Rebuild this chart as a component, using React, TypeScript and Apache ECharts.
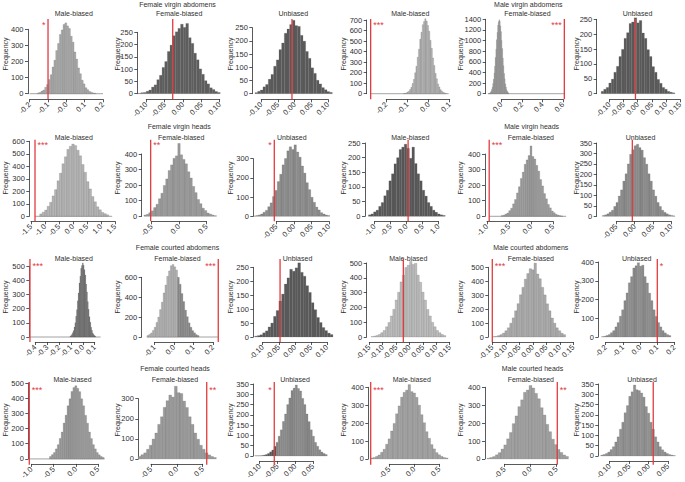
import React, { useEffect, useRef } from 'react';
import * as echarts from 'echarts';

const FONT = '"Liberation Sans", Arial, Helvetica, sans-serif';
const RED = '#e23b3f';
const INK = '#303030';

// ---------------- data ----------------
const panelTitles = ['Male-biased', 'Female-biased', 'Unbiased', 'Male-biased', 'Female-biased', 'Unbiased'];
const groupTitles = [
  ['Female virgin abdomens', 'Male virgin abdomens'],
  ['Female virgin heads', 'Male virgin heads'],
  ['Female courted abdomens', 'Male courted abdomens'],
  ['Female courted heads', 'Male courted heads'],
];

// histogram bin counts
const c11 = [5,8,16,23,40,57,88,118,166,208,268,312,368,396,430,440,421,405,357,320,259,215,160,124,84,61,37,25,14,9,5,3];
const c12 = [1,2,4,5,10,15,27,36,57,75,107,131,172,198,236,252,266,283,270,286,228,205,165,138,101,79,53,40,24,17,9,5];
const c13 = [4,9,14,26,35,55,73,104,128,167,192,229,245,262,278,258,255,221,199,160,134,98,77,51,37,23,15,8,5];
const c14 = [2,4,7,15,23,40,61,97,137,199,260,347,423,518,584,656,686,712,690,648,594,507,431,339,268,193,142,93,64,38,25,13,8,4];
const c15 = [4,8,14,29,46,80,121,190,272,390,515,682,838,1015,1155,1290,1355,1392,1366,1276,1168,1002,850,670,526,381,279,185,126,76,48,27,15];
const c16 = [8,15,21,36,49,72,92,125,149,186,205,236,241,255,238,246,204,186,148,125,91,72,48,35,21,15,8,5,3];
const c21 = [19,33,50,80,112,163,213,284,345,420,476,535,560,578,566,528,484,414,352,277,219,158,116,76,52,31,21,12];
const c22 = [8,13,23,35,56,77,113,148,198,240,294,330,372,388,468,395,365,337,286,246,192,152,108,81,52,37,21,14,8,4];
const c23 = [2,4,7,12,21,31,50,70,103,135,181,219,268,301,341,362,348,372,335,308,262,225,175,139,99,73,48,33,19,12,7,4];
const c24 = [5,8,15,21,34,47,70,89,121,145,179,200,228,236,246,232,198,236,180,145,121,89,69,47,34,21,14,8,5,3];
const c25 = [4,7,14,21,36,52,80,108,150,190,243,284,334,362,390,452,384,368,327,290,236,195,146,112,76,54,34,23,13,8,4,2];
const c26 = [4,7,12,20,29,47,66,97,126,168,203,250,296,318,337,344,328,316,280,249,203,168,126,96,66,47,29,19,12,7,4,2];
const c31 = [5,10,18,30,45,71,101,147,193,256,312,382,430,486,505,524,508,476,438,374,319,250,197,143,104,69,47,28,18,10,6];
const c32 = [14,26,40,66,97,146,200,275,350,443,522,610,664,716,728,705,672,600,530,436,356,270,204,142,99,64,42,24,15];
const c33 = [3,5,8,15,22,36,50,74,95,129,154,190,212,243,236,248,266,232,218,184,160,123,98,70,52,34,23,14,9];
const c34 = [3,6,10,17,29,44,69,98,142,187,250,302,372,418,470,485,510,490,498,418,370,303,249,186,142,99,69,44,29,17,10];
const c35 = [3,5,10,17,28,45,66,99,137,188,239,303,356,415,455,490,482,530,452,418,356,302,238,188,136,99,66,45,27,17];
const c36 = [2,4,8,13,23,34,54,77,111,145,194,235,289,322,368,380,396,378,383,322,288,234,194,145,110,77,54,34,22,13,8];
const c41 = [16,28,42,66,94,135,177,236,288,350,396,444,470,482,465,443,396,350,287,235,177,134,94,66,42,27,16,10];
const c42 = [12,21,30,48,68,99,129,172,210,257,290,318,308,362,330,326,288,256,210,172,129,98,68,48,30,20,12,7];
const c43 = [1,1,1,2,4,7,12,20,29,47,66,96,127,168,204,250,282,318,330,345,328,316,280,250,204,167,127,96,66,47,30,19,12,7];
const c44 = [5,8,14,22,37,54,82,112,156,198,252,296,345,372,384,415,376,368,344,300,247,202,152,115,80,56,35,23,14,8,5];
const c45 = [4,8,13,23,35,55,78,112,148,197,240,292,330,372,385,410,396,366,336,286,245,193,152,110,80,53,36,22,14];
const c46 = [4,7,12,19,31,45,68,93,130,164,210,245,290,312,345,322,318,306,286,240,208,164,130,93,68,45,30,19,12,7,4,2];
const counts = [c11,c12,c13,c14,c15,c16,c21,c22,c23,c24,c25,c26,c31,c32,c33,c34,c35,c36,c41,c42,c43,c44,c45,c46];

const binStarts = [-0.158,-0.129,-0.119,-0.12,-0.125,-0.1295, -1.188,-0.638,-0.1152,-1.19,-0.682,-0.0881, -0.1085,-0.1384,-0.1252,-0.1435,-0.1485,-0.2245, -0.594,-0.749,-0.114,-0.875,-0.837,-0.123];
const binWidths = [0.01,0.0072,0.008,0.006,0.006,0.009, 0.088,0.044,0.0068,0.08,0.044,0.0062, 0.007,0.0092,0.0084,0.009,0.009,0.013, 0.044,0.054,0.006,0.05,0.054,0.006];
// empty-bin stretch of each histogram (zero counts), or null
const emptyRanges: ([number, number] | null)[] = [
  [-0.2, 0.2], null, null, [-0.275, 0.095], [-0.13, 0.62], null,
  [-1.36, 1.4], null, null, null, [-0.95, 0.8], null,
  [-0.445, 0.15], [-0.14, 0.225], null, null, null, null,
  [-1.05, 0.65], null, null, null, null, null,
];
// observed values (red lines) and significance stars
const observed = [-0.1,-0.028,-0.008,-0.274,0.613,-0.008, -1.357,-0.515,-0.0557,0.05,-0.95,-0.0063, -0.445,0.227,-0.046,-0.023,-0.15,0.1, -1.05,0.578,-0.059,-0.872,0.515,0.012];
const stars = ['*','','','***','***','', '***','**','*','','***','', '***','***','','','***','*', '***','**','*','***','**',''];
const starRight = [false,false,false,true,false,false, true,true,false,false,true,false, true,false,false,false,true,true, true,true,false,true,true,false];

// axes
const xMins = [-0.2,-0.1,-0.1,-0.2,0,-0.1, -1.5,-0.5,-0.05,-1,-1,-0.05, -0.4,-0.1,-0.1,-0.15,-0.15,-0.2, -1,-0.5,-0.1,-0.5,-0.5,-0.1];
const xMaxs = [0.2,0.1,0.1,0.1,0.6,0.15, 1.5,0.5,0.1,1,0.5,0.1, 0.1,0.2,0.1,0.15,0.15,0.2, 0.5,0.5,0.05,0.5,0.5,0.05];
const xSteps = [0.1,0.05,0.05,0.1,0.2,0.05, 0.5,0.5,0.05,0.5,0.5,0.05, 0.1,0.1,0.05,0.05,0.05,0.1, 0.5,0.5,0.05,0.5,0.5,0.05];
const xTickLabels = [
  ['-0.2','-0.1','-0.0','0.1','0.2'],
  ['-0.10','-0.05','0.00','0.05','0.10'],
  ['-0.10','-0.05','0.00','0.05','0.10'],
  ['-0.2','-0.1','0.0','0.1'],
  ['0.0','0.2','0.4','0.6'],
  ['-0.10','-0.05','0.00','0.05','0.10','0.15'],
  ['-1.5','-1.0','-0.5','0.0','0.5','1.0','1.5'],
  ['-0.5','0.0','0.5'],
  ['-0.05','0.00','0.05','0.10'],
  ['-1.0','-0.5','0.0','0.5','1.0'],
  ['-1.0','-0.5','0.0','0.5'],
  ['-0.05','0.00','0.05','0.10'],
  ['-0.4','-0.3','-0.2','-0.1','0.0','0.1'],
  ['-0.1','0.0','0.1','0.2'],
  ['-0.10','-0.05','0.00','0.05','0.10'],
  ['-0.15','-0.10','-0.05','0.00','0.05','0.10','0.15'],
  ['-0.15','-0.10','-0.05','0.00','0.05','0.10','0.15'],
  ['-0.2','-0.1','0.0','0.1','0.2'],
  ['-1.0','-0.5','0.0','0.5'],
  ['-0.5','0.0','0.5'],
  ['-0.10','-0.05','0.00','0.05'],
  ['-0.5','0.0','0.5'],
  ['-0.5','0.0','0.5'],
  ['-0.10','-0.05','0.00','0.05'],
];
const yMaxs = [400,250,250,700,1400,250, 600,400,300,250,400,350, 500,600,250,500,500,400, 500,300,350,400,400,350];
const ySteps = [100,50,50,100,200,50, 100,100,100,50,100,50, 100,200,50,100,100,100, 100,100,50,100,100,50];

// ---------------- layout & style ----------------
const rows = [
  { base: 93.7, axisGap: 5.6, lineTop: 19, lineBottom: 99.3, titleY: 13.5, groupY: 4, freqY: 54, starY: 23 },
  { base: 216.3, axisGap: 5, lineTop: 139.7, lineBottom: 221.3, titleY: 137, groupY: 126.3, freqY: 178, starY: 143 },
  { base: 337, axisGap: 5, lineTop: 259, lineBottom: 342, titleY: 258, groupY: 247.3, freqY: 297, starY: 264 },
  { base: 459.7, axisGap: 5, lineTop: 382, lineBottom: 464.7, titleY: 379, groupY: 368.7, freqY: 420, starY: 388 },
];
const groupX = [[177.5, 528.3], [179.2, 531.7], [177.5, 530.8], [175, 532.5]];
const freqX = [5, 117.5, 230.5, 343, 460.5, 576.5];
// axisX: y-axis line; x0/x1: pixel of first/last x tick; yTop: pixel of top y tick
const layout = [
  { axisX: 28, x0: 29.7, x1: 103, yTop: 29.3, titleX: 73.8 },
  { axisX: 137.3, x0: 146.3, x1: 219.7, yTop: 32.3, titleX: 179.2 },
  { axisX: 252.3, x0: 261.3, x1: 328, yTop: 27.7, titleX: 293.3 },
  { axisX: 366.7, x0: 386.3, x1: 449.7, yTop: 20, titleX: 410.3 },
  { axisX: 485.7, x0: 501.3, x1: 563, yTop: 19.3, titleX: 527.5 },
  { axisX: 596.7, x0: 609.5, x1: 697, yTop: 19.3, titleX: 637.5 },
  { axisX: 29.3, x0: 31, x1: 115, yTop: 141.3, titleX: 73.8 },
  { axisX: 141.7, x0: 151.5, x1: 206.5, yTop: 154, titleX: 181.2 },
  { axisX: 253.3, x0: 276.3, x1: 329, yTop: 158.7, titleX: 291.8 },
  { axisX: 365, x0: 374.5, x1: 438.5, yTop: 143, titleX: 410.3 },
  { axisX: 485, x0: 487, x1: 553, yTop: 154, titleX: 530.8 },
  { axisX: 596.7, x0: 616.3, x1: 671.3, yTop: 143, titleX: 640.5 },
  { axisX: 29.3, x0: 35.3, x1: 94.7, yTop: 266.3, titleX: 73.8 },
  { axisX: 141.7, x0: 154.5, x1: 213, yTop: 277.3, titleX: 177.5 },
  { axisX: 253.3, x0: 262.7, x1: 327, yTop: 267.3, titleX: 297.5 },
  { axisX: 366.7, x0: 369.3, x1: 449.7, yTop: 263, titleX: 408.3 },
  { axisX: 488.3, x0: 492.3, x1: 573.3, yTop: 267.3, titleX: 530.8 },
  { axisX: 598.3, x0: 605.7, x1: 674.5, yTop: 262, titleX: 636.7 },
  { axisX: 28.3, x0: 31.5, x1: 98, yTop: 383, titleX: 72.5 },
  { axisX: 138.3, x0: 151, x1: 202.7, yTop: 398.7, titleX: 175 },
  { axisX: 253.3, x0: 259.7, x1: 313, yTop: 384, titleX: 295 },
  { axisX: 368.3, x0: 389.3, x1: 439.3, yTop: 387.3, titleX: 411.7 },
  { axisX: 485, x0: 504.5, x1: 556.5, yTop: 387.3, titleX: 530.8 },
  { axisX: 598.3, x0: 609.7, x1: 668, yTop: 384, titleX: 642 },
];
const fills = ['#a9a9a9','#5e5e5e','#5a5a5a','#b6b6b6','#a8a8a8','#595959',
  '#b4b4b4','#9a9a9a','#8c8c8c','#575757','#9c9c9c','#8a8a8a',
  '#646464','#b3b3b3','#595959','#bcbcbc','#ababab','#8d8d8d',
  '#9a9a9a','#9a9a9a','#8a8a8a','#a2a2a2','#a0a0a0','#919191'];
const shades: ({ from: number; to: number; color: string } | null)[] = [
  null, null, null, null, null, null,
  null, null, null, null, null, null,
  null, { from: 0.015, to: 9, color: '#8a8a8a' }, null, null, null, null,
  null, null, { from: -9, to: -0.055, color: '#555555' }, null, null, null,
];

function buildOption() {
  const grid: any[] = [];
  const xAxis: any[] = [];
  const yAxis: any[] = [];
  const series: any[] = [];
  const graphic: any[] = [];

  for (let i = 0; i < 24; i++) {
    const r = Math.floor(i / 6);
    const col = i % 6;
    const L = layout[i];
    const R = rows[r];
    grid.push({ left: L.x0, top: L.yTop, width: L.x1 - L.x0, height: R.base - L.yTop, containLabel: false });
    const labels = xTickLabels[i];
    const xMin = xMins[i];
    const xStep = xSteps[i];
    xAxis.push({
      type: 'value', gridIndex: i, min: xMin, max: xMaxs[i], interval: xStep,
      offset: R.axisGap,
      axisLine: { show: true, onZero: false, lineStyle: { color: INK, width: 0.8 } },
      axisTick: { show: true, length: 3, lineStyle: { color: INK, width: 0.8 } },
      splitLine: { show: false },
      axisLabel: {
        rotate: 45, fontSize: 7.5, fontFamily: FONT, color: INK, margin: 4,
        showMinLabel: true, showMaxLabel: true,
        formatter: (v: number) => {
          const k = Math.round((v - xMin) / xStep);
          return labels[k] ?? '';
        },
      },
    });
    yAxis.push({
      type: 'value', gridIndex: i, min: 0, max: yMaxs[i], interval: ySteps[i],
      offset: L.x0 - L.axisX,
      axisLine: { show: true, onZero: false, lineStyle: { color: INK, width: 0.8 } },
      axisTick: { show: true, length: 3, lineStyle: { color: INK, width: 0.8 } },
      splitLine: { show: false },
      axisLabel: {
        fontSize: 7.5, fontFamily: FONT, color: INK, margin: 4.5, showMinLabel: true, showMaxLabel: true,
        formatter: (v: number) => String(Math.round(v)),
      },
    });

    const er = emptyRanges[i];
    if (er) {
      series.push({
        type: 'custom', xAxisIndex: i, yAxisIndex: i, silent: true, clip: false,
        data: [[er[0], er[1]]],
        renderItem: (_p: any, api: any) => {
          const a = api.coord([api.value(0), 0]);
          const b = api.coord([api.value(1), 0]);
          return { type: 'line', shape: { x1: a[0], y1: a[1], x2: b[0], y2: b[1] }, style: { stroke: '#8c8c8c', lineWidth: 0.8 } };
        },
      });
    }

    const start = binStarts[i];
    const w = binWidths[i];
    const data = counts[i].map((n, k) => [start + k * w, start + (k + 1) * w, n]);
    const fill = fills[i];
    const shade = shades[i];
    series.push({
      type: 'custom', xAxisIndex: i, yAxisIndex: i, silent: true, clip: false,
      data,
      renderItem: (_p: any, api: any) => {
        const a = api.value(0);
        const b = api.value(1);
        const n = api.value(2);
        const p = api.coord([a, n]);
        const q = api.coord([b, 0]);
        const f = shade && a >= shade.from && a < shade.to ? shade.color : fill;
        return {
          type: 'rect',
          shape: { x: p[0], y: p[1], width: q[0] - p[0], height: q[1] - p[1] },
          style: { fill: f, stroke: '#5a5a5a', lineWidth: 0.2 },
        };
      },
    });

    const star = stars[i];
    const right = starRight[i];
    series.push({
      type: 'custom', xAxisIndex: i, yAxisIndex: i, silent: true, clip: false, z: 5,
      data: [[observed[i], 0]],
      renderItem: (_p: any, api: any) => {
        const x = api.coord([api.value(0), 0])[0];
        const children: any[] = [
          { type: 'line', shape: { x1: x, y1: R.lineTop, x2: x, y2: R.lineBottom }, style: { stroke: RED, lineWidth: 1.3 } },
        ];
        if (star) {
          children.push({
            type: 'text', x: right ? x + 2.5 : x - 2.5, y: R.starY + 2,
            style: { text: star, fill: RED, fontSize: 9, fontFamily: FONT, align: right ? 'left' : 'right', verticalAlign: 'middle' },
          });
        }
        return { type: 'group', children };
      },
    });

    graphic.push({
      type: 'text', x: L.titleX, y: R.titleY,
      style: { text: panelTitles[col], fontSize: 7, fontFamily: FONT, fill: INK, align: 'center', verticalAlign: 'middle', textAlign: 'center', textVerticalAlign: 'middle' },
    });
    graphic.push({
      type: 'text', x: freqX[col], y: R.freqY, rotation: Math.PI / 2,
      style: { text: 'Frequency', fontSize: 7, fontFamily: FONT, fill: INK, align: 'center', verticalAlign: 'middle', textAlign: 'center', textVerticalAlign: 'middle' },
    });
  }

  for (let r = 0; r < 4; r++) {
    for (let g = 0; g < 2; g++) {
      graphic.push({
        type: 'text', x: groupX[r][g], y: rows[r].groupY,
        style: { text: groupTitles[r][g], fontSize: 7, fontFamily: FONT, fill: INK, align: 'center', verticalAlign: 'middle', textAlign: 'center', textVerticalAlign: 'middle' },
      });
    }
  }

  return { animation: false, backgroundColor: '#ffffff', grid, xAxis, yAxis, series, graphic };
}

export default function App() {
  const ref = useRef<HTMLDivElement>(null);
  useEffect(() => {
    if (!ref.current) return;
    const chart = echarts.init(ref.current, undefined, { renderer: 'svg' });
    chart.setOption(buildOption() as any);
    return () => chart.dispose();
  }, []);
  return <div ref={ref} style={{ position: 'fixed', left: 0, top: 0, width: 685, height: 482, background: '#fff' }} />;
}
